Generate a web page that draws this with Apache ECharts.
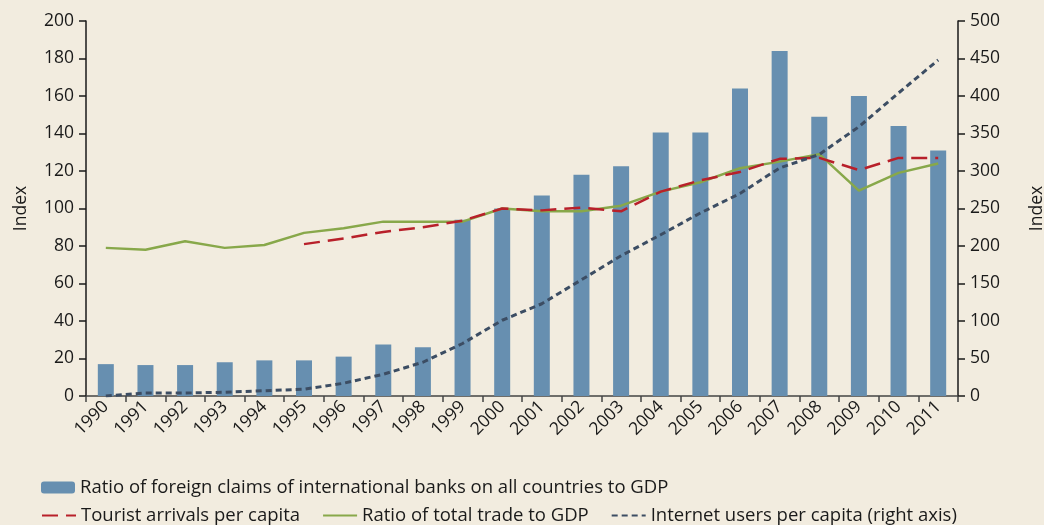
<!DOCTYPE html>
<html><head><meta charset="utf-8">
<script src="https://cdn.jsdelivr.net/npm/echarts@6/dist/echarts.min.js"></script>
<style>html,body{margin:0;padding:0;background:#f2ecdf}#c{width:1044px;height:525px}</style>
</head><body><div id="c"></div>
<script>
const years = ['1990','1991','1992','1993','1994','1995','1996','1997','1998','1999','2000','2001','2002','2003','2004','2005','2006','2007','2008','2009','2010','2011'];
const bankClaims = [17,16.5,16.5,18,19,19,21,27.5,26,94,100,107,118,122.5,140.5,140.5,164,184,149,160,144,131];
const tourist = [null,null,null,null,null,81,84,87.5,90,93.5,100,99,100.5,98.5,109,115,119.5,126.5,127,120.5,127,127];
const trade = [79,78,82.5,79,80.5,87,89.5,93,93,93,100,98.5,98.5,101.5,109,114,121.5,125,129,109.5,119,124];
const internet = [0,4,4,5,7,9,17,29,45,70,101,123,155,187,215,244,270,304,322,359,404,448];
const leftTicks = [0,200,20];
const rightTicks = [0,500,50];

const FONT = 'Open Sans';
const chart = echarts.init(document.getElementById('c'));
chart.setOption({
  backgroundColor: '#f2ecdf',
  textStyle: {fontFamily: FONT, color: '#1a1a1a'},
  animation: false,
  grid: {left: 86, right: 86, top: 21, bottom: 129, containLabel: false, outerBoundsMode: 'none'},
  legend: [
    {data: ['Ratio of foreign claims of international banks on all countries to GDP'],
     left: 36, top: 473, itemWidth: 34, itemHeight: 12, itemGap: 10,
     textStyle: {fontFamily: FONT, fontSize: 18.5, color: '#1a1a1a'}},
    {data: ['Tourist arrivals per capita','Ratio of total trade to GDP','Internet users per capita (right axis)'],
     left: 36, top: 501, itemWidth: 34, itemHeight: 12, itemGap: 22,
     itemStyle: {opacity: 0},
     textStyle: {fontFamily: FONT, fontSize: 18.5, color: '#1a1a1a'}}
  ],
  xAxis: {
    type: 'category', data: years, boundaryGap: true,
    axisLine: {lineStyle: {color: '#444', width: 1.5}},
    axisTick: {show: true, length: 6, alignWithLabel: false, lineStyle: {color: '#444', width: 1.5}},
    axisLabel: {rotate: 45, fontSize: 17.5, color: '#1a1a1a', margin: 8, interval: 0}
  },
  yAxis: [
    {type: 'value', min: leftTicks[0], max: leftTicks[1], interval: leftTicks[2], name: 'Index',
     nameLocation: 'middle', nameGap: 56, nameRotate: 90,
     nameTextStyle: {fontSize: 17.5, color: '#1a1a1a'},
     axisLine: {show: true, lineStyle: {color: '#1a1a1a', width: 1.5}},
     axisTick: {show: true, length: 7, lineStyle: {color: '#1a1a1a', width: 1.5}},
     axisLabel: {fontSize: 17.5, color: '#1a1a1a', margin: 12},
     splitLine: {show: false}},
    {type: 'value', min: rightTicks[0], max: rightTicks[1], interval: rightTicks[2], name: 'Index',
     nameLocation: 'middle', nameGap: 70, nameRotate: 90,
     nameTextStyle: {fontSize: 17.5, color: '#1a1a1a'},
     axisLine: {show: true, lineStyle: {color: '#1a1a1a', width: 1.5}},
     axisTick: {show: true, length: 7, lineStyle: {color: '#1a1a1a', width: 1.5}},
     axisLabel: {fontSize: 17.5, color: '#1a1a1a', margin: 12},
     splitLine: {show: false}}
  ],
  series: [
    {name: 'Ratio of foreign claims of international banks on all countries to GDP', type: 'bar',
     data: bankClaims, barWidth: 16, itemStyle: {color: '#678fb0'}, yAxisIndex: 0},
    {name: 'Tourist arrivals per capita', type: 'line', data: tourist, symbol: 'none', yAxisIndex: 0,
     lineStyle: {color: '#b8202a', width: 2.5, type: [16, 8]}, itemStyle: {color: '#b8202a'}, z: 4},
    {name: 'Ratio of total trade to GDP', type: 'line', data: trade, symbol: 'none', yAxisIndex: 0,
     lineStyle: {color: '#88a84a', width: 2.5}, itemStyle: {color: '#88a84a'}, z: 3},
    {name: 'Internet users per capita (right axis)', type: 'line', data: internet, symbol: 'none', yAxisIndex: 1,
     lineStyle: {color: '#3c4d63', width: 3, type: [6, 4]}, itemStyle: {color: '#3c4d63'}, z: 5}
  ]
});
</script></body></html>
